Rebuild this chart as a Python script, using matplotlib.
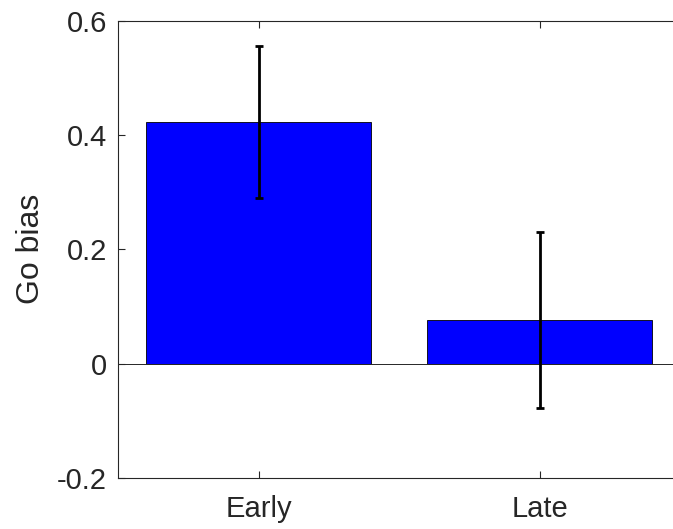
import numpy as np
import matplotlib
matplotlib.use("Agg")
import matplotlib.pyplot as plt

# values
groups = ["Early", "Late"]
go_bias = [0.422, 0.076]
go_bias_err = [0.133, 0.154]
yticks = [-0.2, 0, 0.2, 0.4, 0.6]
ytick_labels = ["-0.2", "0", "0.2", "0.4", "0.6"]

plt.rcParams["font.family"] = ["Liberation Sans", "DejaVu Sans"]
grey = "#262626"

fig = plt.figure(figsize=(6.73, 5.29), dpi=100)
W, H = 673, 529
left, right, top, bottom = 118, 680.5, 20.7, 478
ax = fig.add_axes([left / W, 1 - bottom / H, (right - left) / W, (bottom - top) / H])

x = np.arange(1, len(groups) + 1)
ax.bar(x, go_bias, width=0.8, color="#0000ff", edgecolor="black", linewidth=0.6, zorder=2)
ax.errorbar(x, go_bias, yerr=go_bias_err, fmt="none", ecolor="black",
            elinewidth=2, capsize=3, capthick=2, zorder=3)
ax.axhline(0, color=grey, linewidth=0.7, zorder=2.5)

ax.set_xlim(0.5, 2.5)
ax.set_ylim(-0.2, 0.6)
ax.set_xticks(x)
ax.set_xticklabels(groups)
ax.set_yticks(yticks)
ax.set_yticklabels(ytick_labels)
ax.set_ylabel("Go bias", fontsize=23, color=grey, labelpad=8)

ax.tick_params(direction="in", length=5, width=0.8, colors=grey, labelsize=21,
               top=True, right=False)
ax.tick_params(axis="y", pad=8)
ax.tick_params(axis="x", pad=12)
for s in ax.spines.values():
    s.set_color(grey)
    s.set_linewidth(0.8)
ax.spines["right"].set_visible(False)

fig.savefig("out.png", dpi=100)
